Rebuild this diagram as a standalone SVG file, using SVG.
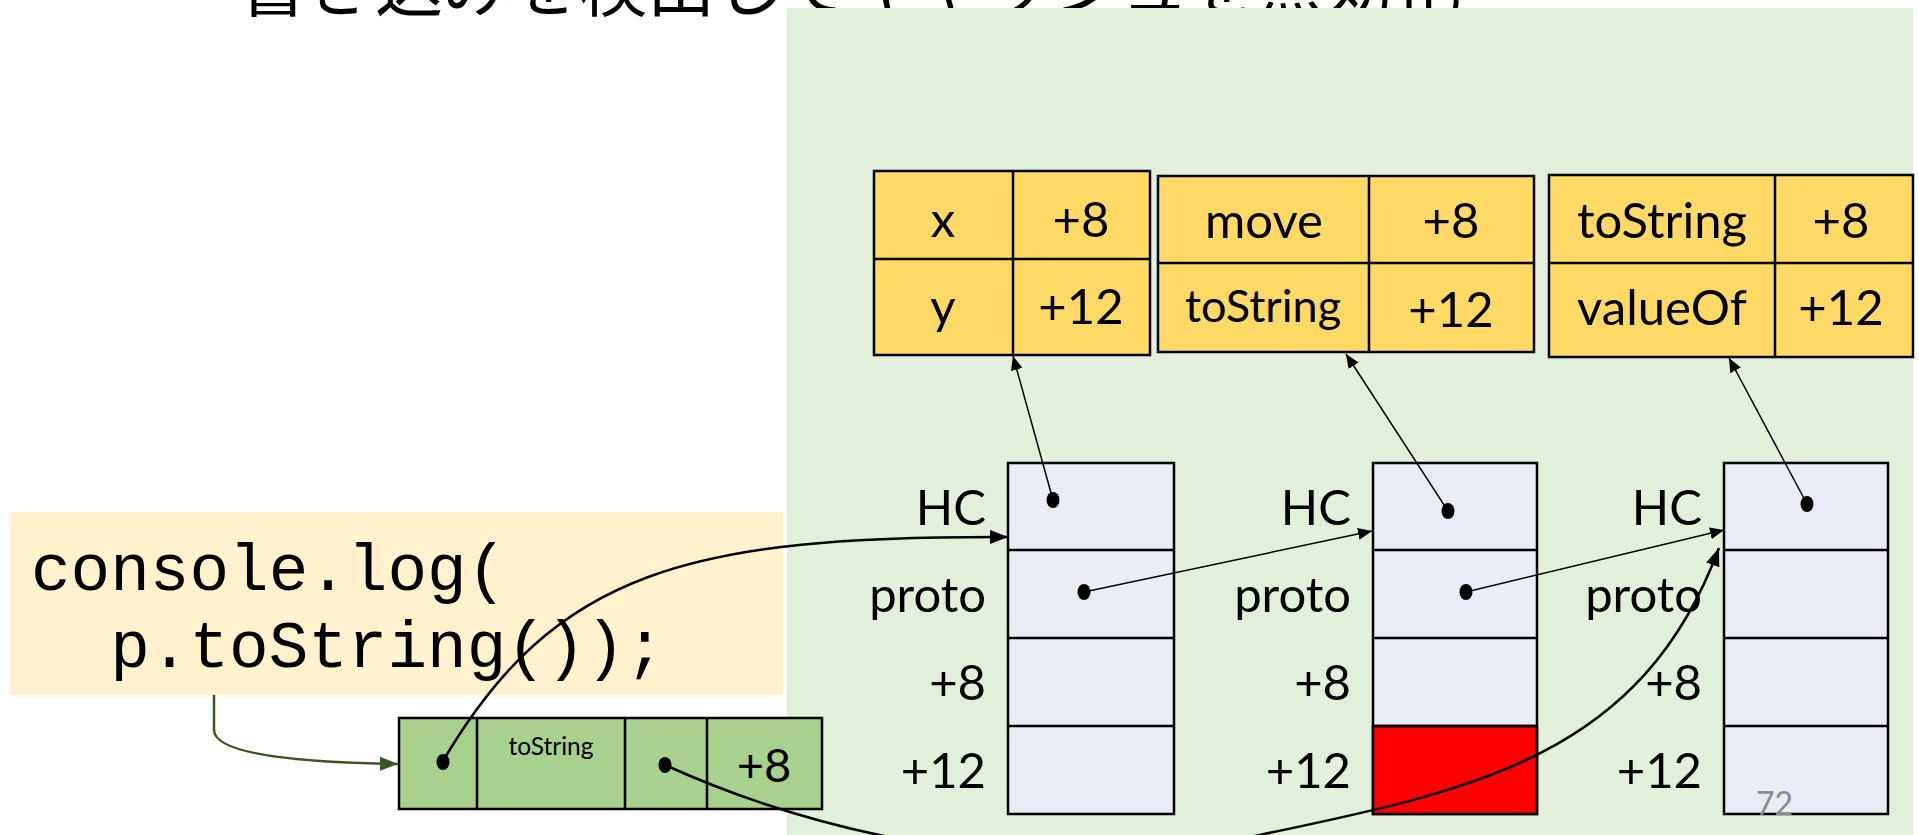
<svg xmlns="http://www.w3.org/2000/svg" width="1919" height="835" viewBox="0 0 1919 835">
<style>
.t{font-family:Lato,"Liberation Sans",sans-serif;font-size:49px;fill:#000}
.c{text-anchor:middle}
.e{text-anchor:end}
.cell{stroke:#000;stroke-width:2.5}
.ytab{fill:#FFD966}
.col{fill:#E9EBF5}
.ln{fill:none;stroke:#000}
.thin{stroke-width:1.5}
.thick{stroke-width:2.5}
.dot{fill:#000}
.code{font-family:"Courier New","Liberation Mono",monospace;font-size:66px;fill:#000}
</style>
<defs>
<marker id="ah" markerUnits="userSpaceOnUse" viewBox="0 0 14 12" refX="14" refY="6" markerWidth="14" markerHeight="12" orient="auto"><path d="M0,0L14,6L0,12z" fill="#000"/></marker>
<marker id="ahb" markerUnits="userSpaceOnUse" viewBox="0 0 18 14" refX="18" refY="7" markerWidth="18" markerHeight="14" orient="auto"><path d="M0,0L18,7L0,14z" fill="#000"/></marker>
<marker id="ahg" markerUnits="userSpaceOnUse" viewBox="0 0 18 14" refX="18" refY="7" markerWidth="18" markerHeight="14" orient="auto"><path d="M0,0L18,7L0,14z" fill="#385723"/></marker>
</defs>
<rect width="1919" height="835" fill="#fff"/>
<g id="title"><text x="239" y="11" font-family="'Noto Sans CJK JP',sans-serif" font-size="68">書き込みを検出してキャッシュを無効化</text></g>
<g id="panel"><rect x="787" y="8" width="1126" height="827" fill="#E2EFDA"/></g>
<g id="code">
<rect x="10" y="512" width="773" height="183" fill="#FFF2CC"/>
<text class="code" x="31" y="590">console.log(</text>
<text class="code" x="31" y="667" xml:space="preserve">  p.toString());</text>
</g>
<g id="ic">
<rect class="cell" x="399" y="718" width="423" height="91" fill="#A9D18E"/>
<path class="cell" d="M477,718V809M625,718V809M707,718V809"/>
<text class="t c" x="551" y="755" style="font-size:24.5px">toString</text>
<text class="t c" x="764" y="782" style="font-size:47px">+8</text>
</g>
<g id="table1">
<rect class="cell ytab" x="874" y="171" width="276" height="184"/>
<path class="cell" d="M874,259H1150M1013,171V355"/>
<text class="t c" x="943" y="237">x</text>
<text class="t c" x="1081" y="237">+8</text>
<text class="t c" x="943" y="324">y</text>
<text class="t c" x="1081" y="324">+12</text>
</g>
<g id="table2">
<rect class="cell ytab" x="1158" y="176" width="376" height="176"/>
<path class="cell" d="M1158,263H1534M1369,176V352"/>
<text class="t c" x="1264" y="238">move</text>
<text class="t c" x="1451" y="238">+8</text>
<text class="t c" x="1263" y="322" style="font-size:45px">toString</text>
<text class="t c" x="1451" y="327">+12</text>
</g>
<g id="table3">
<rect class="cell ytab" x="1549" y="175" width="364" height="182"/>
<path class="cell" d="M1549,263H1913M1775,175V357"/>
<text class="t c" x="1662" y="238">toString</text>
<text class="t c" x="1841" y="238">+8</text>
<text class="t c" x="1662" y="325">valueOf</text>
<text class="t c" x="1841" y="325">+12</text>
</g>
<g id="col1">
<rect class="cell col" x="1008" y="463" width="166" height="351"/>
<path class="cell" d="M1008,550H1174M1008,638H1174M1008,726H1174"/>
<text class="t e" x="986" y="525">HC</text>
<text class="t e" x="986" y="612">proto</text>
<text class="t e" x="986" y="700">+8</text>
<text class="t e" x="986" y="788">+12</text>
</g>
<g id="col2">
<rect class="cell col" x="1373" y="463" width="164" height="351"/>
<rect x="1373" y="726" width="164" height="88" fill="#FF0000" class="cell"/>
<path class="cell" d="M1373,550H1537M1373,638H1537M1373,726H1537"/>
<text class="t e" x="1351" y="525">HC</text>
<text class="t e" x="1351" y="612">proto</text>
<text class="t e" x="1351" y="700">+8</text>
<text class="t e" x="1351" y="788">+12</text>
</g>
<g id="col3">
<rect class="cell col" x="1724" y="463" width="164" height="351"/>
<path class="cell" d="M1724,550H1888M1724,638H1888M1724,726H1888"/>
<text class="t e" x="1702" y="525">HC</text>
<text class="t e" x="1702" y="612">proto</text>
<text class="t e" x="1702" y="700">+8</text>
<text class="t e" x="1702" y="788">+12</text>
</g>
<g id="pagenum"><text class="t" x="1756" y="815" style="font-size:32px;fill:#8B8B8B">72</text></g>
<g id="connectors">
<path class="ln thin" d="M1053,500L1013,356" marker-end="url(#ah)"/>
<path class="ln thin" d="M1448,511L1346,354" marker-end="url(#ah)"/>
<path class="ln thin" d="M1807,504L1729,358" marker-end="url(#ah)"/>
<path class="ln thin" d="M1084,592L1372,531" marker-end="url(#ah)"/>
<path class="ln thin" d="M1466,592L1724,530" marker-end="url(#ah)"/>
<path class="ln thick" d="M443,761C555,570 690,536 1008,537" marker-end="url(#ahb)"/>
<path class="ln thick" d="M665,765C820,835 1040,885 1245,838C1470,791 1640,760 1719,548" marker-end="url(#ahb)"/>
<path d="M214,695V730C214,750 270,762 398,764" fill="none" stroke="#385723" stroke-width="2.5" marker-end="url(#ahg)"/>
<ellipse class="dot" cx="443" cy="762" rx="6.5" ry="8"/>
<ellipse class="dot" cx="665" cy="765" rx="6.5" ry="8"/>
<ellipse class="dot" cx="1053" cy="500" rx="6.5" ry="8"/>
<ellipse class="dot" cx="1084" cy="592" rx="6.5" ry="8"/>
<ellipse class="dot" cx="1448" cy="511" rx="6.5" ry="8"/>
<ellipse class="dot" cx="1466" cy="592" rx="6.5" ry="8"/>
<ellipse class="dot" cx="1807" cy="504" rx="6.5" ry="8"/>
</g>
</svg>
